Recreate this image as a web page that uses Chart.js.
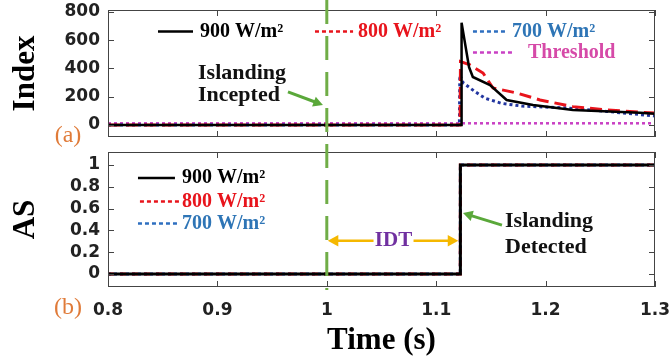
<!DOCTYPE html>
<html>
<head>
<meta charset="utf-8">
<script src="https://cdn.jsdelivr.net/npm/chart.js@4"></script>
<style>
  body { margin: 0; background: #fff; }
  #wrap { position: relative; width: 670px; height: 360px; }
  canvas { position: absolute; left: 0; }
</style>
</head>
<body>
<div id="wrap">
  <canvas id="indexChart" width="670" height="150" style="top:0"></canvas>
  <canvas id="asChart" width="670" height="210" style="top:150px"></canvas>
</div>
<script>
// ticks
const xTicks = [0.8, 0.9, 1, 1.1, 1.2, 1.3];
const indexTicks = [0, 200, 400, 600, 800];
const asTicks = [0, 0.2, 0.4, 0.6, 0.8, 1];

const seriesNames = ["900 W/m\u00b2", "800 W/m\u00b2", "700 W/m\u00b2", "Threshold"];

// (a) Index
const time900 = [0.8, 1.1228, 1.1232, 1.13, 1.1335, 1.1492, 1.1644, 1.1885, 1.225, 1.2863, 1.3];
const index900 = [0, 0, 724, 410, 340, 283, 177, 141, 106, 87, 80];
const time800 = [0.8, 1.1218, 1.1222, 1.1309, 1.1428, 1.1519, 1.1739, 1.1949, 1.225, 1.2561, 1.3];
const index800 = [0, 0, 448, 425, 368, 262, 226, 177, 130, 106, 84];
const time700 = [0.8, 1.1212, 1.1216, 1.1248, 1.1355, 1.1446, 1.1598, 1.1781, 1.2208, 1.2558, 1.3];
const index700 = [0, 0, 354, 297, 236, 189, 153, 134, 120, 96, 64];
const timeThreshold = [0.8, 1.3];
const indexThreshold = [12, 12];

// (b) AS
const timeStep = [0.8, 1.122, 1.1221, 1.3];
const as900 = [0, 0, 1, 1];
const as800 = [0, 0, 1, 1];
const as700 = [0, 0, 1, 1];

const islandingTime = 1.0;
const detectTime = 1.122;

const serif = '"Liberation Serif", "Times New Roman", serif';
const sans = '"DejaVu Sans", Arial, sans-serif';
const green = "#70ad47";

function pts(xs, ys) {
	return xs.map((x, i) => ({ x: x, y: ys[i] }));
}

function text(ctx, str, x, y, font, color, align) {
	ctx.font = font;
	ctx.fillStyle = color;
	ctx.textAlign = align || "left";
	ctx.textBaseline = "middle";
	ctx.fillText(str, x, y);
}

function arrow(ctx, x1, y1, x2, y2, color, w, head) {
	const a = Math.atan2(y2 - y1, x2 - x1);
	ctx.strokeStyle = color;
	ctx.fillStyle = color;
	ctx.lineWidth = w;
	ctx.setLineDash([]);
	ctx.beginPath();
	ctx.moveTo(x1, y1);
	ctx.lineTo(x2 - head * 0.7 * Math.cos(a), y2 - head * 0.7 * Math.sin(a));
	ctx.stroke();
	ctx.beginPath();
	ctx.moveTo(x2, y2);
	ctx.lineTo(x2 - head * Math.cos(a - 0.5), y2 - head * Math.sin(a - 0.5));
	ctx.lineTo(x2 - head * Math.cos(a + 0.5), y2 - head * Math.sin(a + 0.5));
	ctx.closePath();
	ctx.fill();
}

function legendEntry(ctx, px, py, e) {
	ctx.save();
	ctx.strokeStyle = e.line;
	ctx.lineWidth = 2.5;
	ctx.setLineDash(e.dash);
	ctx.beginPath();
	ctx.moveTo(px(e.x0), py(e.y));
	ctx.lineTo(px(e.x1), py(e.y));
	ctx.stroke();
	ctx.restore();
	text(ctx, e.label, px(e.tx), py(e.y), "bold 20px " + serif, e.color);
}

// frame with inward ticks on all four sides
const framePlugin = {
	id: "frame",
	afterDatasetsDraw(chart) {
		const { ctx, chartArea: a, scales } = chart;
		ctx.save();
		ctx.strokeStyle = "#444";
		ctx.lineWidth = 1;
		ctx.setLineDash([]);
		ctx.strokeRect(a.left + 0.5, a.top + 0.5, a.width - 1, a.height - 1);
		ctx.beginPath();
		scales.x.ticks.forEach((t) => {
			const p = Math.round(scales.x.getPixelForValue(t.value)) + 0.5;
			ctx.moveTo(p, a.bottom);
			ctx.lineTo(p, a.bottom - 6);
			ctx.moveTo(p, a.top);
			ctx.lineTo(p, a.top + 6);
		});
		scales.y.ticks.forEach((t) => {
			const p = Math.round(scales.y.getPixelForValue(t.value)) + 0.5;
			ctx.moveTo(a.left, p);
			ctx.lineTo(a.left + 6, p);
			ctx.moveTo(a.right, p);
			ctx.lineTo(a.right - 6, p);
		});
		ctx.stroke();
		ctx.restore();
	},
};

function islandingLine(chart, yEnd) {
	const { ctx, scales } = chart;
	const x = scales.x.getPixelForValue(islandingTime);
	ctx.save();
	ctx.strokeStyle = green;
	ctx.lineWidth = 3;
	ctx.setLineDash([24, 12]);
	ctx.lineDashOffset = chart.canvas.id === "asChart" ? 150 : 0;
	ctx.beginPath();
	ctx.moveTo(x, 0);
	ctx.lineTo(x, yEnd);
	ctx.stroke();
	ctx.restore();
}

const topNotes = {
	id: "topNotes",
	afterDraw(chart) {
		const { ctx, chartArea: a, scales } = chart;
		const px = (v) => scales.x.getPixelForValue(v);
		const py = (v) => scales.y.getPixelForValue(v);
		islandingLine(chart, chart.height);
		ctx.save();
		const f = "bold 22px " + serif;
		text(ctx, "Islanding", px(0.8823), py(364), f, "#111");
		text(ctx, "Incepted", px(0.8823), py(209), f, "#111");
		arrow(ctx, px(0.9645), py(234), px(0.9965), py(142), "#5aa83a", 3, 11);
		[
			{ label: seriesNames[0], color: "#000", line: "#000", dash: [], x0: 0.8457, x1: 0.8777, tx: 0.8841, y: 662 },
			{ label: seriesNames[1], color: "#e8141c", line: "#e8141c", dash: [4, 3], x0: 0.9892, x1: 1.024, tx: 1.0285, y: 662 },
			{ label: seriesNames[2], color: "#2e75b6", line: "#2e6fc0", dash: [4, 3], x0: 1.1336, x1: 1.1656, tx: 1.1693, y: 662 },
			{ label: seriesNames[3], color: "#d64aa8", line: "#c940c4", dash: [4, 3], x0: 1.1336, x1: 1.1693, tx: 1.1839, y: 513 },
		].forEach((e) => legendEntry(ctx, px, py, e));
		text(ctx, "(a)", a.left - 40, a.bottom - 1, "24px " + serif, "#e07b39", "center");
		ctx.restore();
	},
};

const bottomNotes = {
	id: "bottomNotes",
	afterDraw(chart) {
		const { ctx, chartArea: a, scales } = chart;
		const px = (v) => scales.x.getPixelForValue(v);
		const py = (v) => scales.y.getPixelForValue(v);
		islandingLine(chart, a.bottom + 3);
		ctx.save();
		const f = "bold 22px " + serif;
		text(ctx, "Islanding", px(1.1629), py(0.481), f, "#111");
		text(ctx, "Detected", px(1.1629), py(0.243), f, "#111");
		arrow(ctx, px(1.1601), py(0.449), px(1.1245), py(0.559), "#5aa83a", 3, 11);
		// IDT double arrow
		const yIdt = py(0.305);
		const xMid = px((islandingTime + detectTime) / 2);
		text(ctx, "IDT", xMid, yIdt, "bold 21px " + serif, "#7030a0", "center");
		arrow(ctx, xMid - 20, yIdt, px(islandingTime) + 1, yIdt, "#f5b800", 2.5, 12);
		arrow(ctx, xMid + 20, yIdt, px(detectTime) - 2, yIdt, "#f5b800", 2.5, 12);
		[
			{ label: seriesNames[0], color: "#000", line: "#000", dash: [], x0: 0.8274, x1: 0.8612, tx: 0.8676, y: 0.88 },
			{ label: seriesNames[1], color: "#e8141c", line: "#e8141c", dash: [4, 3], x0: 0.8292, x1: 0.8658, tx: 0.8676, y: 0.665 },
			{ label: seriesNames[2], color: "#2e75b6", line: "#2e6fc0", dash: [4, 3], x0: 0.8274, x1: 0.8658, tx: 0.8676, y: 0.463 },
		].forEach((e) => legendEntry(ctx, px, py, e));
		text(ctx, "(b)", a.left - 40, a.bottom + 21, "24px " + serif, "#e07b39", "center");
		ctx.restore();
	},
};

const tickFont = { family: sans, size: 17, weight: "bold" };

function xScale(showLabels, height) {
	return {
		type: "linear",
		min: 0.8,
		max: 1.3,
		afterBuildTicks: (s) => { s.ticks = xTicks.map((v) => ({ value: v })); },
		afterFit: (s) => { s.height = height; s.paddingLeft = 0; s.paddingRight = 0; },
		grid: { display: false, drawTicks: false },
		border: { display: false },
		ticks: { display: showLabels, padding: 13, color: "#222", font: tickFont, callback: (v) => String(v) },
		title: {
			display: showLabels,
			text: "Time (s)",
			color: "#000",
			padding: { top: 0, bottom: 0 },
			font: { family: serif, size: 31, weight: "bold" },
		},
	};
}

function yScale(min, max, ticks, title) {
	return {
		min: min,
		max: max,
		afterBuildTicks: (s) => { s.ticks = ticks.map((v) => ({ value: v })); },
		afterFit: (s) => { s.width = 108; s.paddingTop = 0; s.paddingBottom = 0; },
		grid: { display: false, drawTicks: false },
		border: { display: false },
		ticks: { padding: 8, color: "#222", font: tickFont, callback: (v) => String(v) },
		title: {
			display: true,
			text: title,
			color: "#000",
			padding: { top: 7, bottom: 0 },
			font: { family: serif, size: 31, weight: "bold" },
		},
	};
}

function line(data, color, width, dash) {
	return { data: data, borderColor: color, borderWidth: width, borderDash: dash, pointRadius: 0, fill: false, tension: 0 };
}

const baseOptions = {
	responsive: false,
	animation: false,
	devicePixelRatio: 1,
	plugins: { legend: { display: false }, tooltip: { enabled: false } },
};

new Chart(document.getElementById("indexChart"), {
	type: "line",
	data: {
		datasets: [
			line(pts(time900, index900), "#000", 2.5, []),
			line(pts(time800, index800), "#e8141c", 3, [12, 6]),
			line(pts(time700, index700), "#2336a0", 3, [3, 3]),
			line(pts(timeThreshold, indexThreshold), "#c940c4", 2.5, [3, 3]),
		],
	},
	options: {
		...baseOptions,
		layout: { padding: { top: 10, right: 15, left: 0, bottom: 0 } },
		scales: { x: xScale(false, 13), y: yScale(-85, 814, indexTicks, "Index") },
	},
	plugins: [framePlugin, topNotes],
});

new Chart(document.getElementById("asChart"), {
	type: "line",
	data: {
		datasets: [
			line(pts(timeStep, as900), "#000", 3, []),
			line(pts(timeStep, as800), "#e8141c", 3, [6, 6]),
			line(pts(timeStep, as700), "#2336a0", 3, [3, 3]),
		],
	},
	options: {
		...baseOptions,
		layout: { padding: { top: 2, right: 15, left: 0, bottom: 0 } },
		scales: { x: xScale(true, 73), y: yScale(-0.119, 1.119, asTicks, "AS") },
	},
	plugins: [framePlugin, bottomNotes],
});
</script>
</body>
</html>
